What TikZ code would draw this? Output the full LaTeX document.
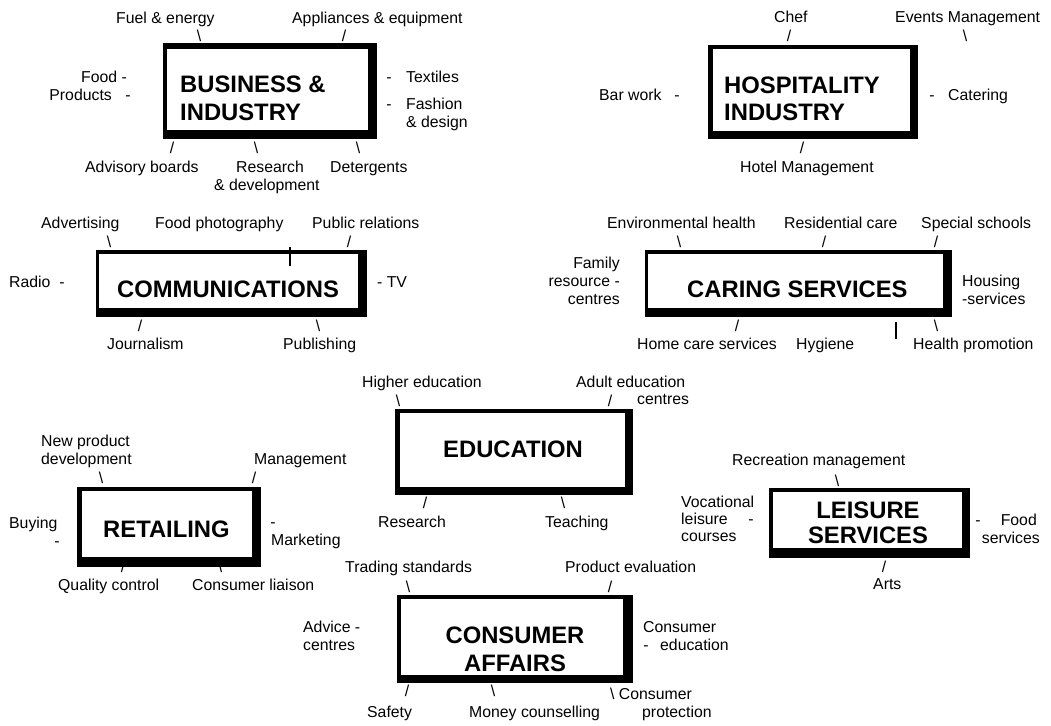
\documentclass[tikz,border=0pt]{standalone}
\usepackage{fontspec}
\setmainfont{Liberation Sans}
\tikzset{
  lbl/.style={font=\fontsize{15.8}{18}\selectfont, inner sep=0pt, anchor=base west},
  lble/.style={lbl, anchor=base east},
  mk/.style={font=\fontsize{15.8}{18}\selectfont, inner sep=0pt, anchor=center},
  dsh/.style={mk, anchor=base},
  ttl/.style={font=\fontsize{23.8}{28}\selectfont\bfseries, inner sep=0pt, anchor=base west},
  ttlc/.style={ttl, anchor=base},
  bar/.style={line width=2pt}
}
\newcommand\catframe[8]{%
  \fill[black] (#1,#2) rectangle (#3,#4);
  \fill[white] (#5,#6) rectangle (#7,#8);}
\begin{document}
\begin{tikzpicture}[x=1pt,y=-1pt]
\useasboundingbox[fill=white] (0,0) rectangle (1051,725);
% boxes
\catframe{163}{43}{377}{139}{167}{49}{368}{130}
\catframe{708}{45}{918}{139}{713}{49}{910}{131}
\catframe{96}{250}{367}{317}{99}{254}{358}{308}
\catframe{645}{250}{952}{317}{648}{254}{943}{308}
\catframe{77}{487}{261}{567}{82}{491}{252}{557}
\catframe{395}{409}{633}{495}{400}{413}{625}{487}
\catframe{769}{488}{970}{558}{773}{492}{962}{548}
\catframe{397}{595}{633}{683}{401}{599}{623}{675}
% Business & industry
\node[ttl] (bt1) at (180,92) {BUSINESS \&};
\node[ttl] (bt2) at (180,120) {INDUSTRY};
\node[lbl] (b1) at (116,24) {Fuel \& energy};
\node[mk] (b1m) at (199,36) {\textbackslash};
\node[lbl] (b2) at (292,24) {Appliances \& equipment};
\node[mk] (b2m) at (344,36) {/};
\node[lble] (b3) at (127,82) {Food -};
\node[lble] (b4) at (112,100) {Products};
\node[dsh] (b4m) at (128,100) {-};
\node[dsh] (b5m) at (389,82) {-};
\node[lbl] (b5) at (406,82) {Textiles};
\node[dsh] (b6m) at (389,109) {-};
\node[lbl] (b6) at (406,109) {Fashion};
\node[lbl] (b7) at (406,127) {\& design};
\node[mk] (b8m) at (172,148) {/};
\node[lbl] (b8) at (85,172) {Advisory boards};
\node[mk] (b9m) at (256,148) {\textbackslash};
\node[lbl] (b9) at (236,172) {Research};
\node[lbl] (b10) at (214,190) {\& development};
\node[mk] (b11m) at (358,148) {\textbackslash};
\node[lbl] (b11) at (330,172) {Detergents};
% Hospitality industry
\node[ttl] (ht1) at (724,93) {HOSPITALITY};
\node[ttl] (ht2) at (724,120) {INDUSTRY};
\node[lbl] (h1) at (774,23) {Chef};
\node[mk] (h1m) at (789,36) {/};
\node[lbl] (h2) at (895,23) {Events Management};
\node[mk] (h2m) at (965,36) {\textbackslash};
\node[lbl] (h3) at (599,100) {Bar work};
\node[dsh] (h3m) at (677,100) {-};
\node[dsh] (h4m) at (932,100) {-};
\node[lbl] (h4) at (948,100) {Catering};
\node[mk] (h5m) at (802,148) {/};
\node[lbl] (h5) at (740,172) {Hotel Management};
% Communications
\node[ttl] (ct) at (117,297) {COMMUNICATIONS};
\node[lbl] (c1) at (41,228) {Advertising};
\node[mk] (c1m) at (109,242) {\textbackslash};
\node[lbl] (c2) at (155,228) {Food photography};
\draw[bar] (290,247) -- (290,266);
\node[lbl] (c3) at (312,228) {Public relations};
\node[mk] (c3m) at (349,242) {/};
\node[lbl] (c4) at (9,287) {Radio};
\node[dsh] (c4m) at (62,287) {-};
\node[lbl] (c5) at (377,287) {- TV};
\node[mk] (c6m) at (140,326) {/};
\node[lbl] (c6) at (107,349) {Journalism};
\node[mk] (c7m) at (318,326) {\textbackslash};
\node[lbl] (c7) at (283,349) {Publishing};
% Caring services
\node[ttl] (kt) at (687,297) {CARING SERVICES};
\node[lbl] (k1) at (607,228) {Environmental health};
\node[mk] (k1m) at (679,242) {\textbackslash};
\node[lbl] (k2) at (784,228) {Residential care};
\node[mk] (k2m) at (824,242) {/};
\node[lbl] (k3) at (921,228) {Special schools};
\node[mk] (k3m) at (936,242) {/};
\node[lble] (k4) at (620,268) {Family};
\node[lble] (k5) at (620,286) {resource -};
\node[lble] (k6) at (620,304) {centres};
\node[lbl] (k7) at (962,286) {Housing};
\node[lbl] (k8) at (962,304) {-services};
\node[mk] (k9m) at (737,326) {/};
\node[lbl] (k9) at (637,349) {Home care services};
\node[lbl] (k10) at (796,349) {Hygiene};
\draw[bar] (896,322) -- (896,339);
\node[mk] (k11m) at (936,326) {\textbackslash};
\node[lbl] (k11) at (913,349) {Health promotion};
% Retailing
\node[ttl] (rt) at (103,537) {RETAILING};
\node[lbl] (r1) at (41,446) {New product};
\node[lbl] (r2) at (41,464) {development};
\node[mk] (r2m) at (101,478) {\textbackslash};
\node[lbl] (r3) at (254,464) {Management};
\node[mk] (r3m) at (254,478) {/};
\node[lbl] (r4) at (9,528) {Buying};
\node[dsh] (r4m) at (57,546) {-};
\node[dsh] (r5m) at (273,527) {-};
\node[lbl] (r5) at (271,545) {Marketing};
\node[mk] (r6m) at (123,567) {/};
\node[lbl] (r6) at (58,590) {Quality control};
\node[mk] (r7m) at (220,567) {\textbackslash};
\node[lbl] (r7) at (192,590) {Consumer liaison};
% Education
\node[ttl] (et) at (443,457) {EDUCATION};
\node[lbl] (e1) at (362,387) {Higher education};
\node[mk] (e1m) at (398,401) {\textbackslash};
\node[lbl] (e2) at (576,387) {Adult education};
\node[lbl] (e3) at (637,404) {centres};
\node[mk] (e2m) at (610,401) {/};
\node[mk] (e4m) at (425,503) {/};
\node[lbl] (e4) at (378,527) {Research};
\node[mk] (e5m) at (563,503) {\textbackslash};
\node[lbl] (e5) at (545,527) {Teaching};
% Leisure services
\node[ttlc] (lt1) at (868,518) {LEISURE};
\node[ttlc] (lt2) at (868,543) {SERVICES};
\node[lbl] (l1) at (732,465) {Recreation management};
\node[mk] (l1m) at (837,481) {\textbackslash};
\node[lbl] (l2) at (681,507) {Vocational};
\node[lbl] (l3) at (681,524) {leisure};
\node[dsh] (l3m) at (751,524) {-};
\node[lbl] (l4) at (681,541) {courses};
\node[dsh] (l5m) at (978,525) {-};
\node[lble] (l5) at (1037,525) {Food};
\node[lble] (l6) at (1040,543) {services};
\node[mk] (l7m) at (884,567) {/};
\node[lbl] (l7) at (873,589) {Arts};
% Consumer affairs
\node[ttlc] (st1) at (515,643) {CONSUMER};
\node[ttlc] (st2) at (515,671) {AFFAIRS};
\node[lbl] (s1) at (345,572) {Trading standards};
\node[mk] (s1m) at (408,587) {\textbackslash};
\node[lbl] (s2) at (565,572) {Product evaluation};
\node[mk] (s2m) at (610,587) {/};
\node[lbl] (s3) at (303,632) {Advice -};
\node[lbl] (s4) at (303,650) {centres};
\node[lbl] (s5) at (643,632) {Consumer};
\node[dsh] (s6m) at (646,650) {-};
\node[lbl] (s6) at (660,650) {education};
\node[mk] (s7m) at (407,691) {/};
\node[lbl] (s7) at (367,717) {Safety};
\node[mk] (s8m) at (493,691) {\textbackslash};
\node[lbl] (s8) at (469,717) {Money counselling};
\node[lbl] (s9) at (610,699) {\textbackslash{} Consumer};
\node[lbl] (s10) at (642,717) {protection};
\end{tikzpicture}
\end{document}
